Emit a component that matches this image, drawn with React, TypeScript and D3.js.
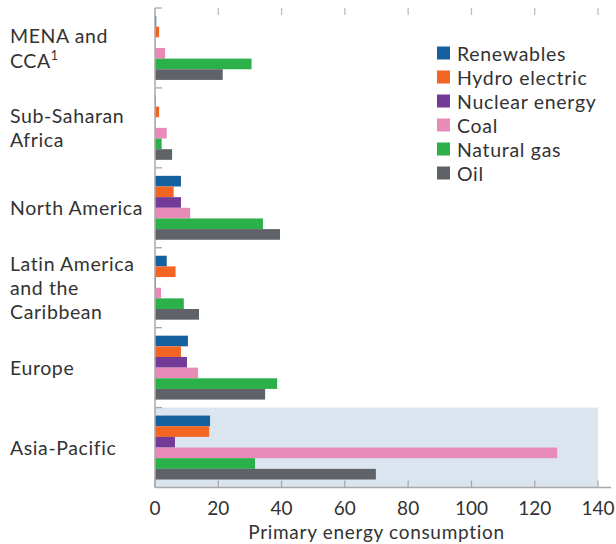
import React from "react";
import * as d3 from "d3";

const regions = [
  ["MENA and", "CCA"],
  ["Sub-Saharan", "Africa"],
  ["North America"],
  ["Latin America", "and the", "Caribbean"],
  ["Europe"],
  ["Asia-Pacific"],
];
const regionKeys = ["MENA", "SSA", "NA", "LAC", "EUR", "AP"];
const seriesNames = ["Renewables", "Hydro electric", "Nuclear energy", "Coal", "Natural gas", "Oil"];
const seriesColors = ["#15609f", "#f26522", "#733a97", "#e88bb8", "#2bb04a", "#5f6368"];

const renewables = [0.4, 0.2, 8.2, 3.7, 10.4, 17.4];
const hydro = [1.3, 1.3, 5.9, 6.5, 8.2, 17.1];
const nuclear = [0.1, 0.1, 8.2, 0.3, 10.1, 6.3];
const coal = [3.2, 3.7, 11.1, 1.9, 13.6, 127.1];
const naturalGas = [30.5, 2.1, 34.1, 9.1, 38.6, 31.6];
const oil = [21.4, 5.4, 39.5, 13.9, 34.8, 69.8];
const seriesValues = [renewables, hydro, nuclear, coal, naturalGas, oil];
const xTicks = [0, 20, 40, 60, 80, 100, 120, 140];

const FONT = "Lato, 'Open Sans', sans-serif";

export default function App() {
  const W = 616, H = 544;
  const x0 = 155, x1 = 598, yTop = 8, yBot = 487.5;
  const x = d3.scaleLinear().domain([0, 140]).range([x0, x1]);
  const yBand = d3.scaleBand().domain(regionKeys).range([yTop, yBot]).padding(0);
  const inner = d3.scaleBand().domain(seriesNames).range([8, yBand.bandwidth() - 8]).padding(0);
  const axisColor = "#a9a9a9";
  const textColor = "#333";

  return (
    <svg width={W} height={H} style={{ position: "absolute", left: 0, top: 0 }} fontFamily={FONT}>
      {/* highlight Asia-Pacific */}
      <rect x={x(0)} y={yBand("AP")} width={x(140) - x(0)} height={yBand.bandwidth()} fill="#dae5ef" />
      {/* bars */}
      {regionKeys.map((rk, i) => (
        <g key={rk} transform={`translate(0,${yBand(rk)})`}>
          {seriesNames.map((s, j) => (
            <rect key={s} x={x(0)} y={inner(s)} width={x(seriesValues[j][i]) - x(0)} height={inner.bandwidth()} fill={seriesColors[j]} />
          ))}
        </g>
      ))}
      {/* top ticks */}
      {xTicks.filter((t) => t > 0).map((t) => (
        <line key={t} x1={x(t)} x2={x(t)} y1={yTop} y2={yTop + 7} stroke="#bdbdbd" strokeWidth={1.3} />
      ))}
      {/* bottom axis */}
      <line x1={x0} x2={611} y1={yBot} y2={yBot} stroke={axisColor} strokeWidth={1.5} />
      {xTicks.map((t) => (
        <g key={t}>
          <line x1={x(t)} x2={x(t)} y1={yBot - 7} y2={yBot} stroke={axisColor} strokeWidth={1.3} />
          <text x={x(t)} y={507} textAnchor="middle" dominantBaseline="central" fontSize={19} fill={textColor}>{t}</text>
        </g>
      ))}
      <text x={376.5} y={531} textAnchor="middle" dominantBaseline="central" fontSize={19} letterSpacing={0.7} fill={textColor}>Primary energy consumption</text>
      {/* y axis */}
      <line x1={x0} x2={x0} y1={yTop} y2={yBot} stroke={axisColor} strokeWidth={1.5} />
      {regionKeys.map((rk) => (
        <line key={rk} x1={x0} x2={x0 + 7} y1={yBand(rk)} y2={yBand(rk)} stroke={axisColor} strokeWidth={1.3} />
      ))}
      {/* category labels */}
      {regions.map((lines, i) => {
        const cy = (yBand(regionKeys[i]) as number) + yBand.bandwidth() / 2;
        const lh = i === 0 ? 25 : 24;
        const start = cy - ((lines.length - 1) * lh) / 2;
        return (
          <text key={i} fontSize={19.5} letterSpacing={0.6} fill={textColor}>
            {lines.map((l, k) => (
              <tspan key={k} x={10} y={start + k * lh} dominantBaseline="central">
                {l}
                {i === 0 && k === 1 ? <tspan fontSize={12.5} baselineShift="5">1</tspan> : null}
              </tspan>
            ))}
          </text>
        );
      })}
      {/* legend */}
      {seriesNames.map((s, j) => (
        <g key={s} transform={`translate(437,${53 + j * 24})`}>
          <rect x={0} y={-6.5} width={13} height={13} fill={seriesColors[j]} />
          <text x={20} y={0} dominantBaseline="central" fontSize={19.5} letterSpacing={0.7} fill={textColor}>{s}</text>
        </g>
      ))}
    </svg>
  );
}
